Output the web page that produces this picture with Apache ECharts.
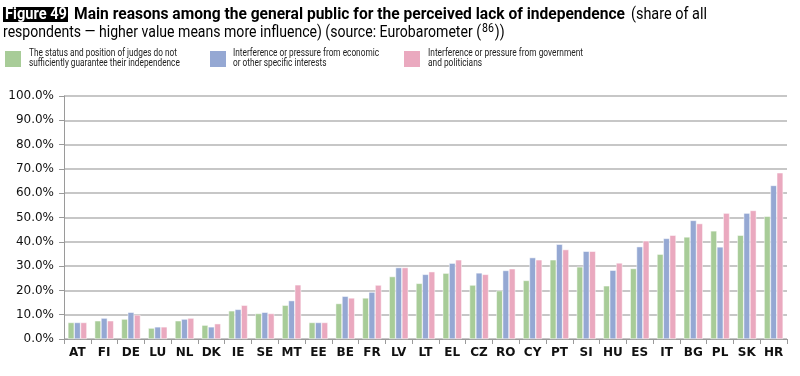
<!DOCTYPE html>
<html>
<head>
<meta charset="utf-8">
<script src="https://cdn.jsdelivr.net/npm/echarts@6/dist/echarts.min.js"></script>
<style>html,body{margin:0;padding:0;background:#fff}#c{width:800px;height:376px}</style>
</head>
<body>
<div id="c"></div>
<script>
const categories = ['AT','FI','DE','LU','NL','DK','IE','SE','MT','EE','BE','FR','LV','LT','EL','CZ','RO','CY','PT','SI','HU','ES','IT','BG','PL','SK','HR'];
const judgesStatus = [6.8,7.5,8.2,4.5,7.5,5.7,11.6,10.5,13.9,6.8,14.6,16.9,25.7,22.9,27.1,22.2,19.9,24.1,32.6,29.7,21.9,29.0,34.9,42.0,44.5,42.7,50.5];
const economicPressure = [6.8,8.6,11.0,5.0,8.2,5.0,12.2,11.0,15.8,6.8,17.6,19.3,29.4,26.6,31.2,27.2,28.2,33.5,39.0,36.1,28.3,38.0,41.4,48.8,37.9,51.8,63.2];
const governmentPressure = [6.8,7.5,9.9,5.0,8.6,6.3,13.9,10.5,22.3,6.8,16.9,22.2,29.4,27.7,32.6,26.6,28.9,32.6,36.8,36.1,31.3,40.4,42.7,47.5,51.8,52.9,68.4];
const seriesNames = ['The status and position of judges do not\nsufficiently guarantee their independence','Interference or pressure from economic\nor other specific interests','Interference or pressure from government\nand politicians'];
const yTicks = [0,10,20,30,40,50,60,70,80,90,100];
const titleBox = 'Figure 49';
const titleBold = 'Main reasons among the general public for the perceived lack of independence';
const titleRest = '(share of all';
const titleLine2 = 'respondents — higher value means more influence) (source: Eurobarometer (';
const titleSup = '86';
const titleEnd = '))';

const FF = 'Roboto, "Liberation Sans", sans-serif';
const colors = ['#a8cc98','#95a8d3','#eaa9bf'];
const ctx = document.createElement('canvas').getContext('2d');
function measure(t, size, weight){ ctx.font = (weight||'normal')+' '+size+'px '+FF; return ctx.measureText(t).width; }

function fitText(t, x0, x1, y, size, weight, color, measureLine, lh){
  const w = measure(measureLine || t, size, weight);
  return {type:'text', x:x0, y:y, scaleX:(x1-x0)/w, silent:true,
    style:{text:t, fontFamily:FF, fontSize:size, fontWeight:weight||'normal', fill:color||'#000',
      align:'left', verticalAlign:'middle', lineHeight:lh||size}};
}

const line2 = fitText(titleLine2, 3, 481, 32.5, 16, 'normal', '#000');
const s2 = line2.scaleX;
const supW = measure(titleSup, 12, 'normal') * s2;
const endW = measure(titleEnd, 16, 'normal') * s2;
const graphics = [
  {type:'rect', shape:{x:3, y:7, width:65, height:15}, style:{fill:'#000'}, silent:true},
  fitText(titleBox, 5, 67, 14.5, 16, 'bold', '#fff'),
  fitText(titleBold, 74, 625, 14.5, 16, 'bold', '#000'),
  fitText(titleRest, 631, 707, 14.5, 16, 'normal', '#000'),
  line2,
  fitText(titleSup, 482, 482 + supW, 29, 12, 'normal', '#000'),
  fitText(titleEnd, 483 + supW, 483 + supW + endW, 32.5, 16, 'normal', '#000'),
];
const legendText = [[29,177],[233,379],[428,583]];
seriesNames.forEach((n,i)=>{
  const first = n.split('\n')[0];
  graphics.push(fitText(n, legendText[i][0], legendText[i][1], 58, 10, 'normal', '#222', first, 10));
});

function legend(i, left){
  return {data:[seriesNames[i]], left:left, top:49, itemWidth:18, itemHeight:18, itemGap:0, padding:0,
    icon:'rect', selectedMode:false, formatter:()=>'', textStyle:{fontSize:9, color:'#222'}};
}
const mk = (i, data) => ({name:seriesNames[i], type:'bar', data:data, barGap:'0%', barCategoryGap:'29%',
  itemStyle:{color:colors[i], borderColor:'#fff', borderWidth:0.5}, animation:false});

const chart = echarts.init(document.getElementById('c'), null, {renderer:'canvas'});
chart.setOption({
  animation:false,
  graphic:graphics,
  legend:[legend(0,3), legend(1,208), legend(2,402)],
  grid:{left:64, right:13, top:96, bottom:37, containLabel:false},
  xAxis:{type:'category', data:categories,
    axisLine:{lineStyle:{color:'#9a9a9a', width:1}},
    axisTick:{show:true, length:5, lineStyle:{color:'#9a9a9a'}},
    axisLabel:{fontFamily:'"DejaVu Sans",sans-serif', fontWeight:'bold', fontSize:12, color:'#111', margin:8, interval:0}},
  yAxis:{type:'value', min:yTicks[0], max:yTicks[yTicks.length-1], interval:10,
    axisLine:{show:true, lineStyle:{color:'#9a9a9a'}},
    axisTick:{show:true, length:5, lineStyle:{color:'#9a9a9a'}},
    splitLine:{lineStyle:{color:'#b4b4b4', width:1.5}},
    axisLabel:{fontFamily:'"DejaVu Sans",sans-serif', fontSize:12, color:'#111', margin:10, formatter:v=>v.toFixed(1)+'%'}},
  series:[mk(0,judgesStatus), mk(1,economicPressure), mk(2,governmentPressure)]
});
</script>
</body>
</html>
